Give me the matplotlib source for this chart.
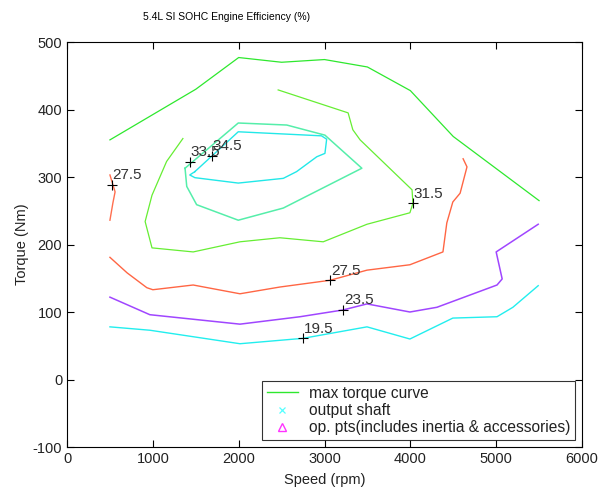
import matplotlib
matplotlib.use("Agg")
import matplotlib.pyplot as plt
from matplotlib.lines import Line2D

plt.rcParams['font.family'] = ['Liberation Sans', 'DejaVu Sans']
plt.rcParams['axes.unicode_minus'] = False

# ---- data (speed in rpm, torque in Nm) ----
max_torque_speed = [500, 1500, 2000, 2500, 3000, 3500, 4000, 4500, 5500]
max_torque_torque = [355, 430, 477, 470, 474, 463, 428, 360, 265]

c315_speed = [1350, 1160, 990, 910, 990, 1470, 2015, 2480, 2985, 3495, 3995, 4030, 4020, 3415, 3330, 3275, 2460]
c315_torque = [357, 323, 273, 234, 195, 189, 204, 210, 204, 230, 247, 261, 281, 355, 370, 395, 429]

c335_speed = [1375, 1395, 1510, 1995, 2520, 3435, 3005, 2560, 1995, 1375]
c335_torque = [313, 286, 259, 236, 254, 313, 362, 377, 380, 313]

c345_speed = [1490, 1430, 1490, 1995, 2520, 2675, 2910, 3005, 3025, 2965, 1995, 1490]
c345_torque = [308, 303, 299, 291, 298, 308, 330, 335, 356, 361, 367, 308]

c275a_speed = [500, 560, 535, 500]
c275a_torque = [303, 278, 262, 236]

c275b_speed = [500, 700, 930, 1000, 1470, 2015, 2480, 3065, 3495, 3995, 4380, 4425, 4495, 4580, 4660, 4615]
c275b_torque = [181, 158, 136, 133, 140, 127, 137, 147, 162, 170, 189, 232, 263, 276, 315, 327]

c235_speed = [500, 965, 2015, 2715, 3215, 3495, 3995, 4310, 5010, 5070, 5000, 5490]
c235_torque = [122, 96, 82, 93, 103, 112, 100, 107, 140, 149, 189, 230]

c195_speed = [500, 965, 2015, 2750, 3495, 3995, 4495, 5010, 5195, 5490]
c195_torque = [78, 73, 53, 61, 78, 60, 91, 93, 107, 139]

label_speed = [2750, 3215, 3065, 4030, 520, 1433, 1689]
label_torque = [61, 103, 147, 261, 288, 322, 331]
label_text = ['19.5', '23.5', '27.5', '31.5', '27.5', '33.5', '34.5']

xticks = [0, 1000, 2000, 3000, 4000, 5000, 6000]
yticks = [-100, 0, 100, 200, 300, 400, 500]

# ---- figure ----
fig = plt.figure(figsize=(5.99, 4.93), dpi=100)
ax = fig.add_axes([0.1119, 0.0933, 0.8597, 0.8215])

green = '#2EE82E'
ax.plot(max_torque_speed, max_torque_torque, color=green, lw=0.9)
ax.plot(c315_speed, c315_torque, color='#66EE33', lw=0.9)
ax.plot(c335_speed, c335_torque, color='#55EEAA', lw=1.1)
ax.plot(c345_speed, c345_torque, color='#22E8E8', lw=1.0)
ax.plot(c275a_speed, c275a_torque, color='#FF6F4F', lw=1.0)
ax.plot(c275b_speed, c275b_torque, color='#FF6644', lw=1.0)
ax.plot(c235_speed, c235_torque, color='#A046FF', lw=1.1)
ax.plot(c195_speed, c195_torque, color='#22EEEE', lw=1.0)

for s, t, txt in zip(label_speed, label_torque, label_text):
    ax.plot([s], [t], marker='+', color='black', ms=7, mew=0.8, ls='none')
    ax.text(s + 10, t + 4, txt, fontsize=11, color='#333333', ha='left', va='bottom')

ax.set_xlim(0, 6000)
ax.set_ylim(-100, 500)
ax.set_xticks(xticks)
ax.set_yticks(yticks)
ax.tick_params(direction='in', top=True, right=True, labelsize=10.5, length=5, width=0.8,
               labelcolor='#222222')
for sp in ax.spines.values():
    sp.set_linewidth(0.8)
ax.set_xlabel('Speed (rpm)', fontsize=10.5, labelpad=5, color='#222222')
ax.set_ylabel('Torque (Nm)', fontsize=10.5, labelpad=3, color='#222222')

fig.text(143 / 599, 1 - 17 / 493, '5.4L SI SOHC Engine Efficiency (%)', fontsize=7.5,
         ha='left', va='center')

handles = [
    Line2D([], [], color=green, lw=1.0),
    Line2D([], [], color='#55FFFF', marker='x', ls='none', ms=5, mew=0.9),
    Line2D([], [], color='#FF33FF', marker='^', ls='none', ms=6, mfc='none', mew=1.0),
]
labels = ['max torque curve', 'output shaft', 'op. pts(includes inertia & accessories)']
leg = ax.legend(handles, labels, loc='lower right', bbox_to_anchor=(0.986, 0.017),
                borderaxespad=0, fontsize=11.2, fancybox=False, frameon=True,
                edgecolor='black', handlelength=2.0, handletextpad=0.7,
                labelspacing=0.15, borderpad=0.3)
leg.get_frame().set_linewidth(0.8)
for t in leg.get_texts():
    t.set_color('#222222')

fig.savefig('out.png', dpi=100)
